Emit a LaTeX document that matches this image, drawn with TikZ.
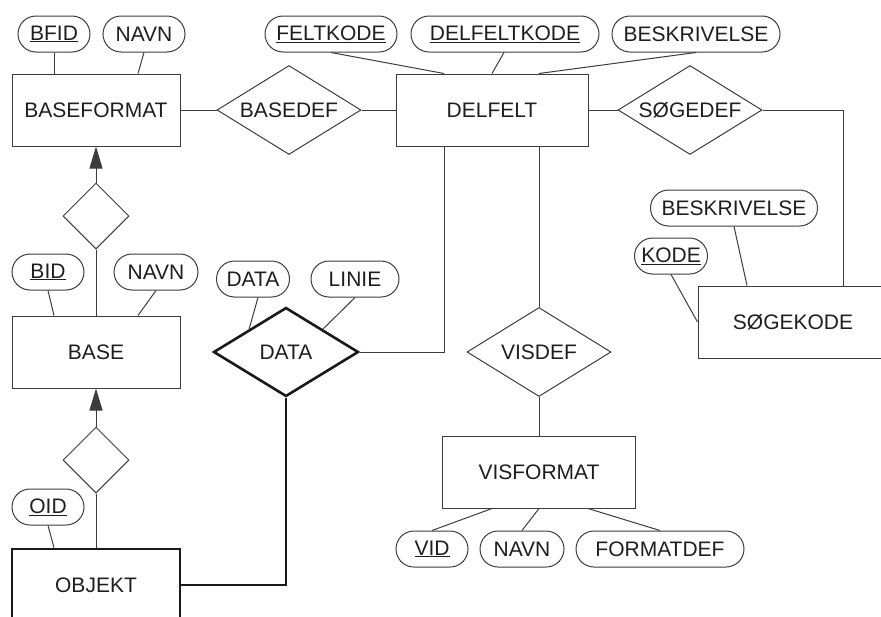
\documentclass[tikz,border=0pt]{standalone}
\usepackage{fontspec}
\setmainfont{Liberation Sans}
\usetikzlibrary{shapes.geometric,arrows.meta,calc}
\definecolor{linegray}{RGB}{60,60,60}
\definecolor{txt}{RGB}{30,30,30}
\begin{document}
\begin{tikzpicture}[x=1pt,y=-1pt,
  font=\fontsize{21}{24}\selectfont,
  every node/.style={text=txt},
  ent/.style={draw=linegray, line width=1pt, minimum width=168pt, minimum height=72pt, inner sep=0pt},
  attr/.style={draw=linegray, line width=1pt, rounded corners=18pt, minimum height=36pt, inner sep=0pt},
  rel/.style={draw=linegray, diamond, line width=1pt, inner sep=0pt, aspect=1.62, minimum width=144pt, minimum height=89pt},
  isa/.style={draw=linegray, diamond, line width=1pt, minimum width=66pt, minimum height=66pt, inner sep=0pt},
  conn/.style={draw=linegray, line width=1pt},
  strong/.style={line width=2.6pt, draw=black!90},
  arr/.style={-{Triangle[width=13pt,length=22pt]}}
]
\useasboundingbox (0,0) rectangle (881,616);

% entities
\node[ent] (bf) at (96,110) {BASEFORMAT};
\node[ent, minimum width=192pt] (delfelt) at (492,110) {DELFELT};
\node[ent, minimum width=190pt] (sogekode) at (793,322) {SØGEKODE};
\node[ent, minimum width=193pt] (visformat) at (539,472) {VISFORMAT};
\node[ent] (base) at (96,352) {BASE};
\node[ent, strong] (obj) at (96,585) {OBJEKT};

% relationships
\node[rel] (basedef) at (289,110) {BASEDEF};
\node[rel] (sogedef) at (690,110) {SØGEDEF};
\node[rel] (visdef) at (539,352) {VISDEF};
\node[rel, strong, minimum width=145pt] (data) at (286,352) {DATA};
\node[isa] (d1) at (96,216) {};
\node[isa] (d2) at (96,460) {};

% attributes
\node[attr, minimum width=72pt] (bfid) at (54,34) {\underline{BFID}};
\node[attr, minimum width=82pt] (navn1) at (144,34) {NAVN};
\node[attr, minimum width=132pt] (feltkode) at (331,34) {\underline{FELTKODE}};
\node[attr, minimum width=188pt] (dfk) at (505,34) {\underline{DELFELTKODE}};
\node[attr, minimum width=168pt] (beskr1) at (696,34) {BESKRIVELSE};
\node[attr, minimum width=167pt] (beskr2) at (734,208) {BESKRIVELSE};
\node[attr, minimum width=73pt] (kode) at (671,256) {\underline{KODE}};
\node[attr, minimum width=72pt] (vid) at (432,549) {\underline{VID}};
\node[attr, minimum width=84pt] (navn3) at (522,549) {NAVN};
\node[attr, minimum width=168pt] (fdef) at (660,549) {FORMATDEF};
\node[attr, minimum width=72pt] (bid) at (48,272) {\underline{BID}};
\node[attr, minimum width=84pt] (navn2) at (156,272) {NAVN};
\node[attr, minimum width=72pt] (oid) at (48,507) {\underline{OID}};
\node[attr, minimum width=73pt] (dattr) at (253,279) {DATA};
\node[attr, minimum width=88pt] (linie) at (355,279) {LINIE};

% connectors
\path[conn] (bfid.south) -- (bfid.south |- bf.north);
\path[conn] (navn1.south) -- ([xshift=42pt]bf.north);
\path[conn] (bf.east) -- (basedef.west);
\path[conn] (basedef.east) -- (delfelt.west);
\path[conn] (feltkode.south) -- ([xshift=-48pt]delfelt.north);
\path[conn] ([xshift=-1pt]dfk.south) -- (delfelt.north);
\path[conn] (beskr1.south) -- ([xshift=47pt]delfelt.north);
\path[conn] (delfelt.east) -- (sogedef.west);
\path[conn] (sogedef.east) -| ([xshift=50pt]sogekode.north);
\path[conn] (beskr2.south) -- ([xshift=-46pt]sogekode.north);
\path[conn] (kode.south) -- (sogekode.west);
\path[conn] ([xshift=-48pt]delfelt.south) |- (data.east);
\path[conn] (visdef.north |- delfelt.south) -- (visdef.north);
\path[conn] (visdef.south) -- (visformat.north);
\path[conn] ([xshift=-47pt]visformat.south) -- (vid.north);
\path[conn] (visformat.south) -- (navn3.north);
\path[conn] ([xshift=49pt]visformat.south) -- (fdef.north);
\path[conn, arr] (d1.north) -- (bf.south);
\path[conn] (d1.south) -- (base.north);
\path[conn] (bid.south) -- ([xshift=-42pt]base.north);
\path[conn] (navn2.south) -- ([xshift=42pt]base.north);
\path[conn, arr] (d2.north) -- (base.south);
\path[conn] (d2.south) -- (obj.north);
\path[conn] (oid.south) -- ([xshift=-42pt]obj.north);
\path[conn] ([xshift=5pt]dattr.south) -- ($(data.north)!0.5!(data.west)$);
\path[conn] (linie.south) -- ($(data.north)!0.5!(data.east)$);
\path[conn, strong] (data.south) |- (obj.east);
\end{tikzpicture}
\end{document}
